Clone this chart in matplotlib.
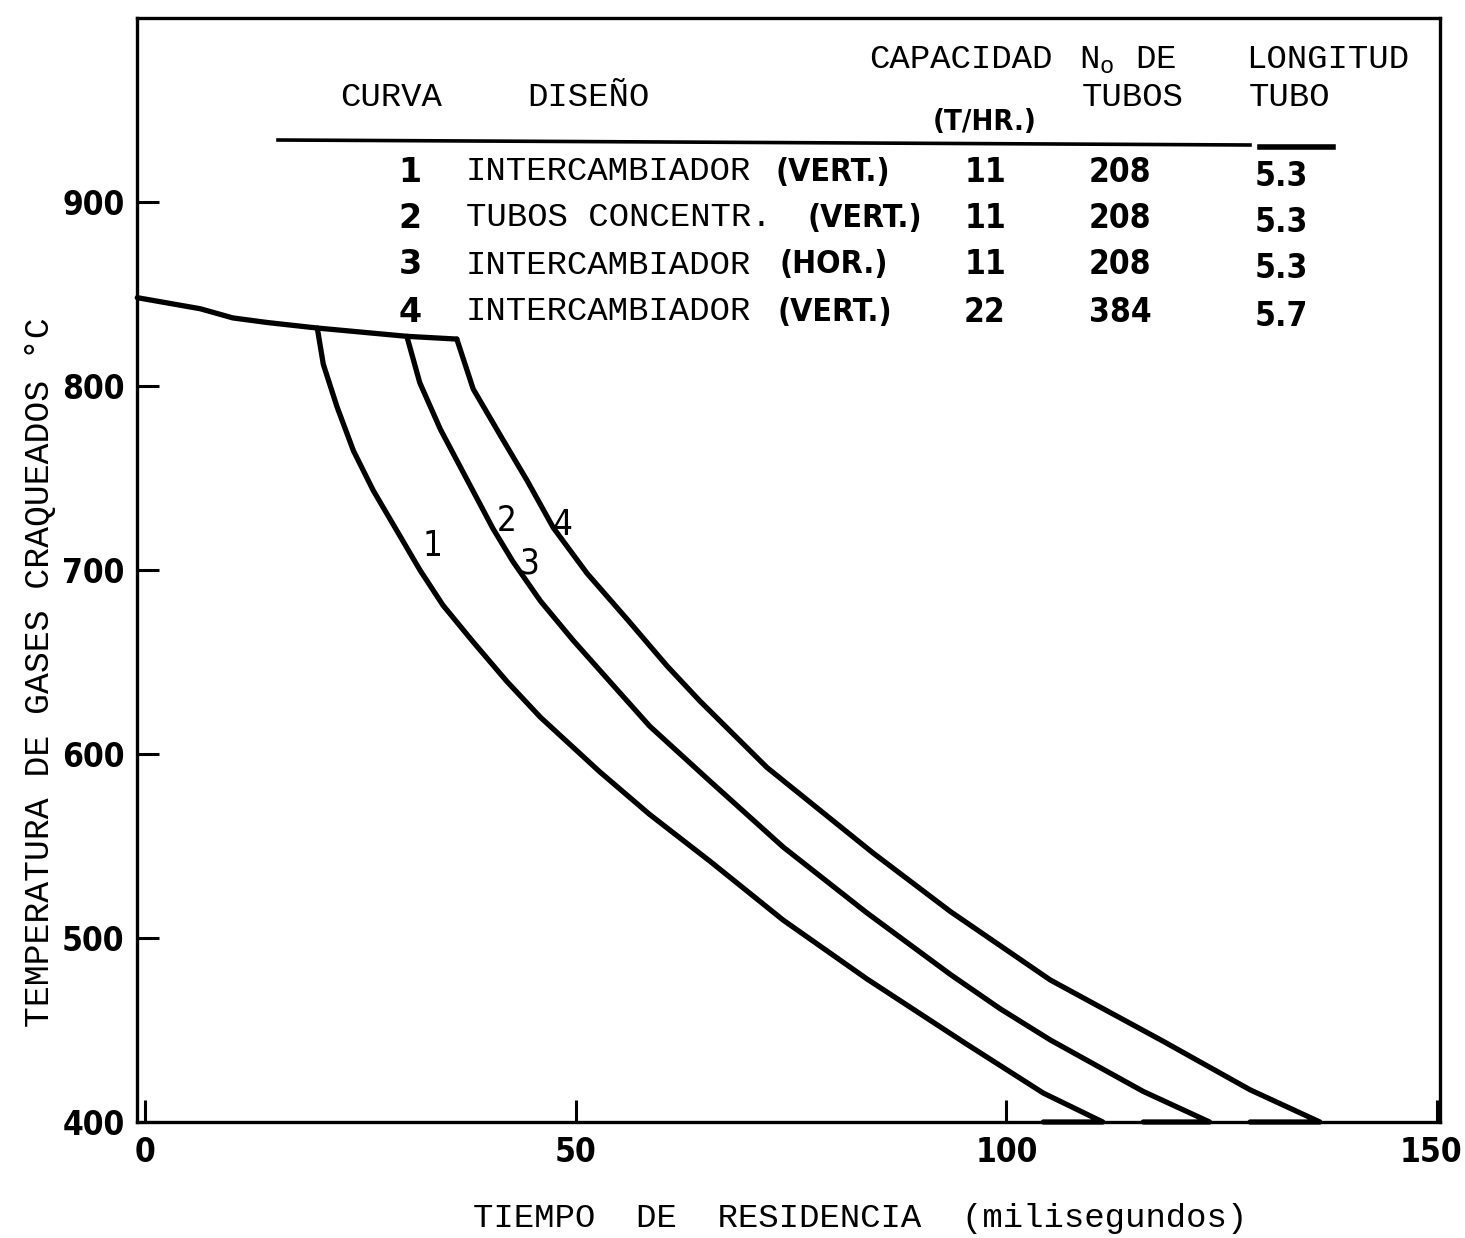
import matplotlib
matplotlib.use('Agg')
import matplotlib.pyplot as plt
import matplotlib.transforms as mtransforms
from matplotlib.lines import Line2D

# linea comun (salida del horno)
comun_t = [-0.9, 6.4, 10.2, 14.2, 20.0, 30.4, 36.2]
comun_T = [848, 842, 837, 834.5, 831.5, 827, 825.5]

curva1_t = [20.0, 20.7, 22.3, 24.2, 26.5, 29.6, 31.9, 34.6, 38.1, 42.0, 45.9, 52.8, 58.6, 65.6,
            74.1, 83.8, 95.4, 104.3, 111.2, 104.3]
curva1_T = [831.5, 811.8, 788.6, 764.8, 743.2, 718.5, 700.1, 680.8, 660.9, 639.5, 620.0, 590.3, 567.1, 541.7,
            509.7, 477.8, 442.3, 415.7, 400, 400]

curva23_t = [30.4, 31.9, 34.3, 37.4, 40.4, 42.7, 45.9, 49.7, 54.8, 58.6, 65.6, 74.1, 83.8, 93.5,
             99.3, 105.1, 115.9, 123.6, 115.9]
curva23_T = [827, 801.8, 776.4, 749.0, 722.5, 704.7, 683.2, 661.8, 635.0, 615.1, 585.2, 549.4, 513.7, 480.2,
             461.5, 444.6, 416.6, 400, 400]

curva4_t = [36.2, 38.1, 41.2, 44.4, 47.4, 51.3, 56.0, 60.6, 64.4, 72.2, 84.5, 93.5, 105.1, 118.2,
            128.3, 136.4, 128.3]
curva4_T = [825.5, 798.4, 773.6, 748.3, 723.0, 698.3, 673.1, 647.9, 628.9, 592.7, 546.3, 514.4, 477.2, 443.9,
            417.5, 400, 400]

etiquetas = ['1', '2', '3', '4']
etiq_t = [33.4, 42.0, 44.7, 48.5]
etiq_T = [713.3, 726.4, 703.3, 724.2]

x_ticks = [0, 50, 100, 150]
y_ticks = [400, 500, 600, 700, 800, 900]

# tabla
curva_ids = ['1', '2', '3', '4']
diseno = ['INTERCAMBIADOR', 'TUBOS CONCENTR.', 'INTERCAMBIADOR', 'INTERCAMBIADOR']
orientacion = ['(VERT.)', '(VERT.)', '(HOR.)', '(VERT.)']
capacidad = ['11', '11', '11', '22']
n_tubos = ['208', '208', '208', '384']
longitud = ['5.3', '5.3', '5.3', '5.7']

W, H = 1465, 1238
MONO = ['Liberation Mono', 'DejaVu Sans Mono']
BOLD = ['DejaVu Sans']

fig = plt.figure(figsize=(W / 100, H / 100), dpi=100)
ax = fig.add_axes([137 / W, 1 - 1122 / H, 1303 / W, 1104 / H])


def ftext(x, y, s, **kw):
    fig.text(x / W, 1 - y / H, s, **kw)


lw = 3.8
for t, T in [(comun_t, comun_T), (curva1_t, curva1_T), (curva23_t, curva23_T), (curva4_t, curva4_T)]:
    ax.plot(t, T, color='black', lw=lw, solid_joinstyle='round', solid_capstyle='round', clip_on=False)

for s, t, T in zip(etiquetas, etiq_t, etiq_T):
    ax.text(t, T, s, fontsize=25, family=BOLD, fontstretch='condensed', ha='center', va='center')

ax.set_xlim(-0.93, 150.35)
ax.set_ylim(400, 1000)
ax.set_xticks(x_ticks)
ax.set_yticks(y_ticks)
ax.tick_params(direction='in', length=16, width=2.2)
ax.tick_params(axis='y', pad=9)
ax.tick_params(axis='x', pad=10)
for lab in ax.get_xticklabels() + ax.get_yticklabels():
    lab.set_family(BOLD)
    lab.set_fontweight('bold')
    lab.set_fontstretch('condensed')
    lab.set_fontsize(24)
# el "150" queda pegado al borde derecho
ultimo = ax.get_xticklabels()[-1]
ultimo.set_transform(ultimo.get_transform() + mtransforms.ScaledTranslation(-6 / 100, 0, fig.dpi_scale_trans))
for sp in ax.spines.values():
    sp.set_linewidth(2.4)

ftext(40, 672, 'TEMPERATURA DE GASES CRAQUEADOS °C', family=MONO, fontsize=25,
      rotation=90, ha='center', va='center')
ftext(860, 1218, 'TIEMPO  DE  RESIDENCIA  (milisegundos)', family=MONO, fontsize=24.5,
      ha='center', va='center')

# encabezado de la tabla
ftext(961, 60, 'CAPACIDAD', family=MONO, fontsize=24.5, ha='center', va='center')
ftext(1128, 60, r'N$_\mathregular{o}$ DE', family=MONO, fontsize=24.5, ha='center', va='center')
ftext(1328, 60, 'LONGITUD', family=MONO, fontsize=24.5, ha='center', va='center')
ftext(391, 97, 'CURVA', family=MONO, fontsize=24.5, ha='center', va='center')
ftext(588, 97, 'DISEÑO', family=MONO, fontsize=24.5, ha='center', va='center')
ftext(1133, 97, 'TUBOS', family=MONO, fontsize=24.5, ha='center', va='center')
ftext(1290, 97, 'TUBO', family=MONO, fontsize=24.5, ha='center', va='center')
ftext(985, 122, '(T/HR.)', family=BOLD, fontstretch='condensed', fontweight='bold', fontsize=21,
      ha='center', va='center')

fig.add_artist(Line2D([278 / W, 1250 / W], [1 - 140 / H, 1 - 145 / H], color='black', lw=2.6))
fig.add_artist(Line2D([1260 / W, 1333 / W], [1 - 147 / H, 1 - 147 / H], color='black', lw=4))

fila_y = [172, 218, 265, 312]
orient_x = [775, 808, 780, 778]
for i in range(4):
    y = fila_y[i]
    ftext(410, y, curva_ids[i], family=BOLD, fontweight='bold', fontsize=24, ha='center', va='center')
    ftext(466, y, diseno[i], family=MONO, fontsize=24.5, ha='left', va='center')
    ftext(orient_x[i], y, orientacion[i], family=BOLD, fontstretch='condensed', fontweight='bold',
          fontsize=23, ha='left', va='center')
    ftext(985, y, capacidad[i], family=BOLD, fontstretch='condensed', fontweight='bold', fontsize=24,
          ha='center', va='center')
    ftext(1120, y, n_tubos[i], family=BOLD, fontstretch='condensed', fontweight='bold', fontsize=24,
          ha='center', va='center')
    ftext(1281, y + 4, longitud[i], family=BOLD, fontstretch='condensed', fontweight='bold', fontsize=24,
          ha='center', va='center')

fig.savefig('out.png', dpi=100, facecolor='white')
